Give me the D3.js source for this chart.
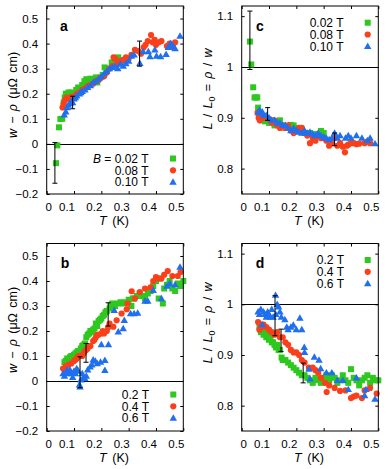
<!DOCTYPE html>
<html><head><meta charset="utf-8">
<script src="https://cdn.jsdelivr.net/npm/d3@7"></script>
<style>
body{margin:0;background:#fff}
svg{display:block}
text{font-family:"Liberation Sans",Arial,Helvetica,sans-serif;fill:#000}
</style>
</head><body>
<svg id="chart" width="390" height="469"></svg>
<script>
// ---------- tick values ----------
const xTicks = [0, 0.1, 0.2, 0.3, 0.4, 0.5];
const yTicksW = [-0.2, -0.1, 0, 0.1, 0.2, 0.3, 0.4, 0.5];
const yTicksL = [0.8, 0.9, 1, 1.1];

// ---------- legends ----------
const legendA = ["B = 0.02 T", "0.08 T", "0.10 T"];
const legendTop = ["0.02 T", "0.08 T", "0.10 T"];
const legendBottom = ["0.2 T", "0.4 T", "0.6 T"];
const colors = ["#2ec81e", "#fa3f1a", "#1f6fef"];

// ---------- panel a : w - rho, low fields ----------
const aGreen = [[0.034,-0.077],[0.039,-0.006],[0.045,0.066],[0.05,0.099],[0.057,0.1],[0.062,0.165],[0.066,0.185],[0.07,0.2],[0.075,0.18],[0.08,0.205],[0.085,0.195],[0.09,0.205],[0.1,0.2],[0.108,0.215],[0.115,0.225],[0.12,0.21],[0.13,0.235],[0.138,0.25],[0.145,0.258],[0.152,0.245],[0.16,0.26],[0.17,0.255],[0.18,0.265],[0.185,0.245],[0.195,0.265],[0.205,0.275],[0.212,0.305],[0.22,0.3],[0.238,0.325],[0.25,0.335],[0.262,0.345]];
const aRed = [[0.058,0.145],[0.062,0.16],[0.067,0.175],[0.073,0.185],[0.082,0.18],[0.091,0.188],[0.1,0.19],[0.11,0.2],[0.12,0.205],[0.13,0.215],[0.14,0.22],[0.15,0.23],[0.16,0.235],[0.17,0.24],[0.18,0.25],[0.19,0.255],[0.2,0.265],[0.21,0.27],[0.22,0.285],[0.23,0.3],[0.24,0.31],[0.245,0.345],[0.25,0.34],[0.26,0.32],[0.27,0.33],[0.28,0.335],[0.29,0.345],[0.3,0.34],[0.31,0.355],[0.323,0.375],[0.335,0.37],[0.345,0.36],[0.355,0.385],[0.362,0.395],[0.37,0.41],[0.382,0.434],[0.388,0.405],[0.395,0.415],[0.4,0.395],[0.41,0.405],[0.42,0.41],[0.44,0.39],[0.45,0.4],[0.462,0.385],[0.47,0.405]];
const aBlue = [[0.064,0.116],[0.07,0.128],[0.075,0.145],[0.079,0.155],[0.085,0.162],[0.09,0.17],[0.095,0.165],[0.1,0.18],[0.105,0.185],[0.11,0.192],[0.12,0.2],[0.125,0.205],[0.13,0.21],[0.14,0.215],[0.15,0.225],[0.16,0.232],[0.17,0.245],[0.18,0.25],[0.19,0.26],[0.2,0.268],[0.21,0.28],[0.22,0.29],[0.23,0.3],[0.24,0.305],[0.25,0.31],[0.26,0.3],[0.27,0.318],[0.28,0.31],[0.29,0.32],[0.3,0.33],[0.31,0.35],[0.32,0.355],[0.341,0.321],[0.353,0.368],[0.372,0.368],[0.378,0.348],[0.396,0.375],[0.402,0.35],[0.417,0.348],[0.437,0.357],[0.445,0.385],[0.454,0.401],[0.462,0.39],[0.47,0.38],[0.488,0.43]];
const aErr = [[0.03,-0.157,0.005],[0.095,0.14,0.19],[0.34,0.31,0.41]];

// ---------- panel c : L/L0, low fields ----------
const cGreen = [[0.03,1.05],[0.035,1.005],[0.042,0.96],[0.047,0.94],[0.052,0.94],[0.057,0.94],[0.06,0.92],[0.065,0.905],[0.07,0.9],[0.075,0.895],[0.085,0.893],[0.1,0.89],[0.11,0.895],[0.12,0.885],[0.13,0.89],[0.14,0.895],[0.15,0.885],[0.16,0.88],[0.17,0.882],[0.18,0.886],[0.19,0.885],[0.2,0.875],[0.21,0.88],[0.22,0.875],[0.23,0.87],[0.25,0.87],[0.27,0.868],[0.29,0.874],[0.3,0.87]];
const cRed = [[0.058,0.91],[0.062,0.9],[0.066,0.895],[0.07,0.905],[0.08,0.9],[0.09,0.9],[0.1,0.898],[0.11,0.89],[0.12,0.895],[0.13,0.885],[0.14,0.88],[0.15,0.885],[0.16,0.88],[0.17,0.885],[0.18,0.875],[0.19,0.87],[0.2,0.875],[0.21,0.88],[0.22,0.88],[0.23,0.87],[0.24,0.865],[0.25,0.85],[0.26,0.86],[0.27,0.855],[0.28,0.865],[0.29,0.86],[0.3,0.86],[0.31,0.855],[0.32,0.845],[0.33,0.85],[0.34,0.86],[0.35,0.845],[0.36,0.85],[0.37,0.843],[0.378,0.832],[0.385,0.845],[0.39,0.847],[0.4,0.85],[0.41,0.85],[0.42,0.848],[0.43,0.849],[0.45,0.85],[0.46,0.853],[0.47,0.85]];
const cBlue = [[0.06,0.91],[0.065,0.915],[0.07,0.91],[0.075,0.912],[0.08,0.905],[0.09,0.905],[0.1,0.9],[0.11,0.895],[0.12,0.895],[0.13,0.89],[0.14,0.89],[0.15,0.885],[0.16,0.885],[0.17,0.88],[0.18,0.875],[0.19,0.88],[0.2,0.875],[0.21,0.872],[0.22,0.87],[0.23,0.875],[0.24,0.87],[0.25,0.872],[0.26,0.868],[0.27,0.865],[0.28,0.87],[0.29,0.865],[0.3,0.862],[0.31,0.86],[0.32,0.857],[0.33,0.86],[0.34,0.87],[0.35,0.86],[0.36,0.865],[0.38,0.86],[0.39,0.865],[0.4,0.86],[0.42,0.865],[0.44,0.86],[0.46,0.855],[0.47,0.86],[0.488,0.849]];
const cErr = [[0.03,0.995,1.11],[0.095,0.895,0.92],[0.34,0.845,0.87]];

// ---------- panel b : w - rho, high fields ----------
const bGreen = [[0.065,0.075],[0.07,0.08],[0.075,0.09],[0.08,0.085],[0.085,0.095],[0.09,0.1],[0.095,0.095],[0.1,0.105],[0.105,0.11],[0.11,0.115],[0.115,0.12],[0.12,0.115],[0.125,0.13],[0.13,0.14],[0.135,0.145],[0.14,0.15],[0.145,0.175],[0.15,0.185],[0.155,0.19],[0.16,0.2],[0.165,0.195],[0.17,0.205],[0.175,0.21],[0.18,0.23],[0.185,0.22],[0.19,0.24],[0.195,0.245],[0.2,0.25],[0.205,0.26],[0.21,0.265],[0.215,0.275],[0.22,0.28],[0.23,0.29],[0.235,0.3],[0.24,0.31],[0.245,0.305],[0.25,0.3],[0.26,0.31],[0.27,0.315],[0.28,0.31],[0.29,0.315],[0.3,0.325],[0.31,0.3],[0.315,0.33],[0.32,0.33],[0.33,0.34],[0.34,0.35],[0.35,0.34],[0.36,0.33],[0.37,0.35],[0.38,0.36],[0.385,0.37],[0.39,0.38],[0.4,0.4],[0.41,0.33],[0.415,0.41],[0.425,0.31],[0.43,0.37],[0.44,0.385],[0.45,0.4],[0.46,0.37],[0.47,0.36],[0.48,0.39],[0.49,0.38],[0.5,0.4]];
const bRed = [[0.06,0.05],[0.065,0.045],[0.07,0.06],[0.08,0.065],[0.09,0.07],[0.1,0.08],[0.105,0.085],[0.11,0.09],[0.115,0.1],[0.12,0.1],[0.13,0.1],[0.135,0.11],[0.14,0.12],[0.145,0.125],[0.15,0.13],[0.155,0.14],[0.16,0.14],[0.17,0.16],[0.175,0.165],[0.18,0.175],[0.185,0.185],[0.19,0.185],[0.2,0.19],[0.205,0.2],[0.21,0.19],[0.22,0.2],[0.225,0.215],[0.23,0.23],[0.244,0.217],[0.256,0.243],[0.274,0.27],[0.293,0.287],[0.296,0.31],[0.311,0.359],[0.323,0.33],[0.341,0.356],[0.36,0.37],[0.38,0.375],[0.39,0.4],[0.4,0.416],[0.41,0.41],[0.42,0.41],[0.43,0.425],[0.443,0.44],[0.46,0.42],[0.48,0.42],[0.49,0.436]];
const bBlue = [[0.06,0.03],[0.065,0.02],[0.073,0.03],[0.075,0.045],[0.08,0.035],[0.085,0.045],[0.09,0.03],[0.095,0.015],[0.1,0.04],[0.105,0.03],[0.11,0.05],[0.115,0.04],[0.12,-0.015],[0.122,-0.023],[0.125,0.005],[0.13,0.03],[0.135,0.015],[0.14,0.01],[0.145,0.02],[0.15,0.045],[0.159,0.057],[0.165,0.065],[0.17,0.085],[0.178,0.08],[0.185,0.07],[0.197,0.076],[0.213,0.083],[0.213,0.043],[0.2,0.146],[0.226,0.146],[0.247,0.283],[0.262,0.197],[0.28,0.21],[0.284,0.243],[0.307,0.27],[0.32,0.27],[0.333,0.272],[0.36,0.32],[0.37,0.32],[0.39,0.363],[0.42,0.33],[0.44,0.38],[0.451,0.39],[0.47,0.385],[0.488,0.456]];
const bErr = [[0.122,-0.027,0.097],[0.144,0.075,0.15],[0.225,0.22,0.313]];

// ---------- panel d : L/L0, high fields ----------
const dGreen = [[0.065,0.955],[0.07,0.945],[0.075,0.95],[0.08,0.94],[0.085,0.945],[0.09,0.935],[0.095,0.94],[0.1,0.93],[0.105,0.935],[0.11,0.925],[0.115,0.925],[0.12,0.92],[0.125,0.915],[0.13,0.92],[0.135,0.91],[0.14,0.91],[0.146,0.895],[0.15,0.89],[0.16,0.89],[0.17,0.885],[0.18,0.88],[0.19,0.875],[0.2,0.87],[0.21,0.865],[0.22,0.86],[0.23,0.86],[0.24,0.855],[0.25,0.85],[0.26,0.845],[0.27,0.855],[0.28,0.85],[0.29,0.845],[0.3,0.855],[0.31,0.86],[0.32,0.85],[0.33,0.86],[0.34,0.855],[0.35,0.845],[0.36,0.85],[0.37,0.86],[0.38,0.85],[0.39,0.845],[0.4,0.872],[0.41,0.855],[0.42,0.85],[0.43,0.84],[0.44,0.85],[0.45,0.855],[0.46,0.86],[0.47,0.845],[0.48,0.855],[0.49,0.85],[0.5,0.85]];
const dRed = [[0.06,0.965],[0.065,0.95],[0.07,0.96],[0.075,0.955],[0.08,0.96],[0.09,0.955],[0.1,0.95],[0.11,0.945],[0.12,0.94],[0.13,0.945],[0.14,0.935],[0.15,0.935],[0.16,0.925],[0.17,0.92],[0.18,0.91],[0.19,0.905],[0.2,0.905],[0.21,0.9],[0.22,0.89],[0.23,0.885],[0.246,0.875],[0.26,0.875],[0.27,0.87],[0.28,0.865],[0.29,0.855],[0.305,0.845],[0.311,0.827],[0.32,0.84],[0.34,0.835],[0.36,0.829],[0.38,0.83],[0.4,0.815],[0.41,0.818],[0.42,0.82],[0.44,0.815],[0.45,0.83],[0.47,0.835],[0.494,0.824]];
const dBlue = [[0.06,0.985],[0.065,0.98],[0.07,0.99],[0.075,0.96],[0.08,0.985],[0.085,0.98],[0.09,0.975],[0.095,0.985],[0.1,0.98],[0.105,0.975],[0.11,0.99],[0.115,0.975],[0.124,1.018],[0.125,0.98],[0.13,1.0],[0.135,0.995],[0.14,0.985],[0.145,0.975],[0.158,0.97],[0.165,0.955],[0.17,0.95],[0.18,0.955],[0.189,0.959],[0.2,0.95],[0.213,0.973],[0.22,0.95],[0.229,0.915],[0.23,0.905],[0.246,0.872],[0.25,0.853],[0.266,0.896],[0.283,0.89],[0.289,0.873],[0.31,0.865],[0.33,0.865],[0.35,0.85],[0.37,0.85],[0.39,0.832],[0.42,0.855],[0.45,0.82],[0.455,0.832],[0.488,0.813]];
const dErr = [[0.122,0.938,1.017],[0.144,0.907,0.951],[0.225,0.845,0.884]];

// ---------- drawing ----------
const svg = d3.select("#chart");
const FS = 11.5;   // tick labels
const LFS = 12;    // legend
const AFS = 12.5;  // axis titles

const panels = [
  {id:"a", x0:46.7, x1:183.3, y0:6, y1:194, ydom:[-0.2,0.55], yt:yTicksW, ref:0, series:[aGreen,aRed,aBlue], err:aErr,
   legend:legendA, legX:148.5, legSymX:173, legY:158.5, labelX:64, labelY:31, ylab:"w", ylabY:95, ylabX:12},
  {id:"c", x0:241.7, x1:378.3, y0:6, y1:194, ydom:[0.75,1.12], yt:yTicksL, ref:1, series:[cGreen,cRed,cBlue], err:cErr,
   legend:legendTop, legX:343.5, legSymX:367.7, legY:22.7, labelX:260, labelY:31, ylab:"L", ylabY:89, ylabX:207.5},
  {id:"b", x0:46.7, x1:183.3, y0:243.5, y1:431, ydom:[-0.2,0.55], yt:yTicksW, ref:0, series:[bGreen,bRed,bBlue], err:bErr,
   legend:legendBottom, legX:149, legSymX:173.3, legY:394.5, labelX:65, labelY:268, ylab:"w", ylabY:330, ylabX:12},
  {id:"d", x0:241.7, x1:378.3, y0:243.5, y1:431, ydom:[0.75,1.12], yt:yTicksL, ref:1, series:[dGreen,dRed,dBlue], err:dErr,
   legend:legendBottom, legX:344, legSymX:367.7, legY:260, labelX:260, labelY:268, ylab:"L", ylabY:323, ylabX:207.5}
];

const fmt = d3.format("~g");
const triangle = d3.symbol().type(d3.symbolTriangle).size(24);

function drawMarker(g, k, cx, cy) {
  const c = colors[k];
  if (k === 0) {
    g.append("rect").attr("x", cx-3).attr("y", cy-3).attr("width", 6).attr("height", 6).attr("fill", c);
  } else if (k === 1) {
    g.append("circle").attr("cx", cx).attr("cy", cy).attr("r", 3.1).attr("fill", c);
  } else {
    g.append("path").attr("d", triangle()).attr("transform", `translate(${cx},${cy+0.5})`).attr("fill", c);
  }
}

panels.forEach(p => {
  const x = d3.scaleLinear().domain([0, 0.5]).range([p.x0, p.x1]);
  const y = d3.scaleLinear().domain(p.ydom).range([p.y1, p.y0]);
  const g = svg.append("g");

  // axes with inward ticks
  const bottom = g.append("g").attr("transform", `translate(0,${p.y1})`)
    .call(d3.axisBottom(x).tickValues(xTicks).tickSize(-3).tickPadding(8.5).tickFormat(fmt));
  bottom.selectAll(".tick text").attr("dx", d => d === 0 ? 1.5 : -7.5);
  const top = g.append("g").attr("transform", `translate(0,${p.y0})`)
    .call(d3.axisTop(x).tickValues(xTicks).tickSize(-3).tickFormat(""));
  const left = g.append("g").attr("transform", `translate(${p.x0},0)`)
    .call(d3.axisLeft(y).tickValues(p.yt).tickSize(-3).tickPadding(8.5).tickFormat(fmt));
  const right = g.append("g").attr("transform", `translate(${p.x1},0)`)
    .call(d3.axisRight(y).tickValues(p.yt).tickSize(-3).tickFormat(""));
  [bottom, top, left, right].forEach(a => {
    a.select(".domain").remove();
    a.selectAll("line").attr("stroke", "#000");
    a.selectAll("text").attr("font-size", FS).attr("font-family", '"Liberation Sans",Arial,sans-serif');
  });

  // reference line
  g.append("line").attr("x1", p.x0).attr("x2", p.x1)
    .attr("y1", Math.round(y(p.ref))+0.5).attr("y2", Math.round(y(p.ref))+0.5)
    .attr("stroke", "#000").attr("stroke-width", 1);

  // data markers
  const mg = g.append("g");
  p.series.forEach((s, k) => {
    s.forEach(d => drawMarker(mg, k, x(d[0]), y(d[1])));
  });

  // error bars
  const eg = g.append("g").attr("stroke", "#000").attr("stroke-width", 1);
  p.err.forEach(e => {
    const cx = x(e[0]);
    eg.append("line").attr("x1", cx).attr("x2", cx).attr("y1", y(e[1])).attr("y2", y(e[2]));
    eg.append("line").attr("x1", cx-2.5).attr("x2", cx+2.5).attr("y1", y(e[1])).attr("y2", y(e[1]));
    eg.append("line").attr("x1", cx-2.5).attr("x2", cx+2.5).attr("y1", y(e[2])).attr("y2", y(e[2]));
  });

  // frame
  g.append("rect").attr("x", p.x0).attr("y", p.y0).attr("width", p.x1-p.x0).attr("height", p.y1-p.y0)
    .attr("fill", "none").attr("stroke", "#000").attr("stroke-width", 1);

  // panel letter
  g.append("text").attr("x", p.labelX).attr("y", p.labelY).attr("text-anchor", "middle")
    .attr("font-size", 14).attr("font-weight", "bold").text(p.id);

  // legend
  p.legend.forEach((t, i) => {
    const ly = p.legY + i*11.8;
    const tx = g.append("text").attr("x", p.legX).attr("y", ly + 4.2).attr("text-anchor", "end").attr("font-size", LFS);
    if (t.startsWith("B = ")) {
      tx.append("tspan").attr("font-style", "italic").text("B");
      tx.append("tspan").text(t.slice(1));
    } else tx.text(t);
    drawMarker(g, i, p.legSymX, ly);
  });

  // x label
  const xl = g.append("text").attr("x", (p.x0+p.x1)/2 - 1).attr("y", p.y1 + 30.5).attr("text-anchor", "middle")
    .attr("font-size", AFS).attr("word-spacing", 2);
  xl.append("tspan").attr("font-style", "italic").text("T");
  xl.append("tspan").text(" (K)");

  // y label
  const yl = g.append("text").attr("transform", `translate(${p.ylabX + 4.5},${p.ylabY}) rotate(-90)`)
    .attr("text-anchor", "middle").attr("font-size", AFS).attr("word-spacing", 1.8);
  if (p.ylab === "w") {
    yl.append("tspan").attr("font-style", "italic").text("w");
    yl.append("tspan").text(" − ");
    yl.append("tspan").attr("font-style", "italic").text("ρ");
    yl.append("tspan").text(" (μΩ cm)");
  } else {
    yl.append("tspan").attr("font-style", "italic").text("L");
    yl.append("tspan").text(" / ");
    yl.append("tspan").attr("font-style", "italic").text("L");
    yl.append("tspan").attr("font-size", 9).attr("dy", 2.5).text("0");
    yl.append("tspan").attr("dy", -2.5).text(" = ");
    yl.append("tspan").attr("font-style", "italic").text("ρ");
    yl.append("tspan").text(" / ");
    yl.append("tspan").attr("font-style", "italic").text("w");
  }
});
</script>
</body></html>
